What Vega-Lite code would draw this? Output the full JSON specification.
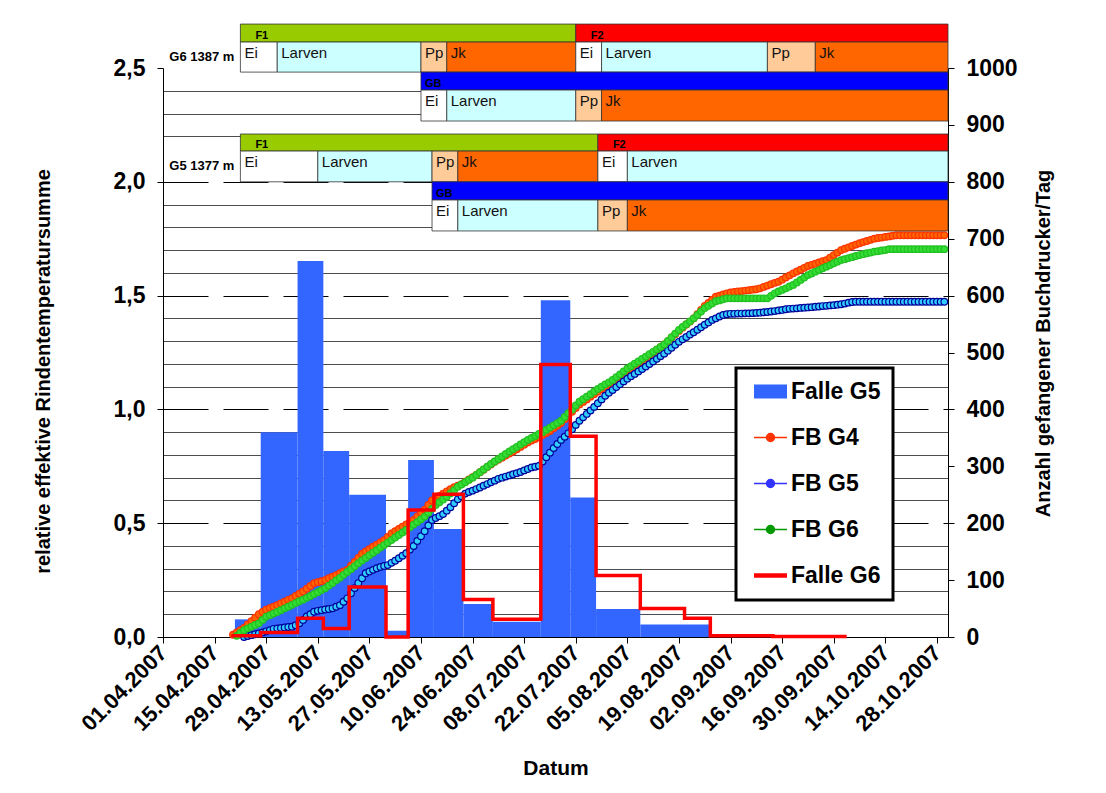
{
  "$schema": "https://vega.github.io/schema/vega-lite/v6.json",
  "width": 785,
  "height": 569,
  "autosize": {"type": "none"},
  "padding": {"left": 163, "top": 68, "right": 158, "bottom": 156},
  "background": "#ffffff",
  "config": {
    "view": {"stroke": null},
    "font": "Liberation Sans",
    "axis": {"domainColor": "#000000", "tickColor": "#000000", "labelColor": "#000000", "titleColor": "#000000", "labelFont": "Liberation Sans", "titleFont": "Liberation Sans", "labelFontWeight": "bold", "titleFontWeight": "bold", "labelOverlap": false, "labelFlush": false, "domainWidth": 1}
  },
  "datasets": {
    "fb": [
      {"d":"2007-04-20","FB G4":0.010},
      {"d":"2007-04-21","FB G4":0.020,"FB G6":0.005},
      {"d":"2007-04-22","FB G4":0.030,"FB G6":0.018},
      {"d":"2007-04-23","FB G4":0.040,"FB G5":0.000,"FB G6":0.030},
      {"d":"2007-04-24","FB G4":0.055,"FB G5":0.004,"FB G6":0.038},
      {"d":"2007-04-25","FB G4":0.070,"FB G5":0.008,"FB G6":0.045},
      {"d":"2007-04-26","FB G4":0.085,"FB G5":0.012,"FB G6":0.053},
      {"d":"2007-04-27","FB G4":0.100,"FB G5":0.016,"FB G6":0.060},
      {"d":"2007-04-28","FB G4":0.110,"FB G5":0.020,"FB G6":0.075},
      {"d":"2007-04-29","FB G4":0.120,"FB G5":0.025,"FB G6":0.089},
      {"d":"2007-04-30","FB G4":0.127,"FB G5":0.030,"FB G6":0.096},
      {"d":"2007-05-01","FB G4":0.133,"FB G5":0.036,"FB G6":0.103},
      {"d":"2007-05-02","FB G4":0.140,"FB G5":0.038,"FB G6":0.110},
      {"d":"2007-05-03","FB G4":0.148,"FB G5":0.040,"FB G6":0.118},
      {"d":"2007-05-04","FB G4":0.155,"FB G5":0.042,"FB G6":0.126},
      {"d":"2007-05-05","FB G4":0.163,"FB G5":0.044,"FB G6":0.133},
      {"d":"2007-05-06","FB G4":0.170,"FB G5":0.045,"FB G6":0.141},
      {"d":"2007-05-07","FB G4":0.180,"FB G5":0.052,"FB G6":0.149},
      {"d":"2007-05-08","FB G4":0.190,"FB G5":0.060,"FB G6":0.157},
      {"d":"2007-05-09","FB G4":0.200,"FB G5":0.075,"FB G6":0.164},
      {"d":"2007-05-10","FB G4":0.212,"FB G5":0.090,"FB G6":0.172},
      {"d":"2007-05-11","FB G4":0.224,"FB G5":0.100,"FB G6":0.180},
      {"d":"2007-05-12","FB G4":0.236,"FB G5":0.111,"FB G6":0.189},
      {"d":"2007-05-13","FB G4":0.241,"FB G5":0.115,"FB G6":0.197},
      {"d":"2007-05-14","FB G4":0.245,"FB G5":0.118,"FB G6":0.206},
      {"d":"2007-05-15","FB G4":0.250,"FB G5":0.121,"FB G6":0.214},
      {"d":"2007-05-16","FB G4":0.258,"FB G5":0.123,"FB G6":0.226},
      {"d":"2007-05-17","FB G4":0.265,"FB G5":0.126,"FB G6":0.237},
      {"d":"2007-05-18","FB G4":0.272,"FB G5":0.133,"FB G6":0.249},
      {"d":"2007-05-19","FB G4":0.280,"FB G5":0.140,"FB G6":0.260},
      {"d":"2007-05-20","FB G4":0.288,"FB G5":0.155,"FB G6":0.273},
      {"d":"2007-05-21","FB G4":0.295,"FB G5":0.170,"FB G6":0.286},
      {"d":"2007-05-22","FB G4":0.313,"FB G5":0.192,"FB G6":0.298},
      {"d":"2007-05-23","FB G4":0.330,"FB G5":0.215,"FB G6":0.311},
      {"d":"2007-05-24","FB G4":0.348,"FB G5":0.237,"FB G6":0.324},
      {"d":"2007-05-25","FB G4":0.365,"FB G5":0.258,"FB G6":0.336},
      {"d":"2007-05-26","FB G4":0.376,"FB G5":0.280,"FB G6":0.347},
      {"d":"2007-05-27","FB G4":0.386,"FB G5":0.288,"FB G6":0.359},
      {"d":"2007-05-28","FB G4":0.397,"FB G5":0.295,"FB G6":0.370},
      {"d":"2007-05-29","FB G4":0.406,"FB G5":0.302,"FB G6":0.381},
      {"d":"2007-05-30","FB G4":0.416,"FB G5":0.308,"FB G6":0.393},
      {"d":"2007-05-31","FB G4":0.425,"FB G5":0.312,"FB G6":0.404},
      {"d":"2007-06-01","FB G4":0.440,"FB G5":0.316,"FB G6":0.415},
      {"d":"2007-06-02","FB G4":0.455,"FB G5":0.326,"FB G6":0.426},
      {"d":"2007-06-03","FB G4":0.465,"FB G5":0.335,"FB G6":0.437},
      {"d":"2007-06-04","FB G4":0.475,"FB G5":0.346,"FB G6":0.448},
      {"d":"2007-06-05","FB G4":0.485,"FB G5":0.357,"FB G6":0.459},
      {"d":"2007-06-06","FB G4":0.495,"FB G5":0.368,"FB G6":0.470},
      {"d":"2007-06-07","FB G4":0.504,"FB G5":0.384,"FB G6":0.482},
      {"d":"2007-06-08","FB G4":0.514,"FB G5":0.400,"FB G6":0.494},
      {"d":"2007-06-09","FB G4":0.530,"FB G5":0.422,"FB G6":0.505},
      {"d":"2007-06-10","FB G4":0.545,"FB G5":0.443,"FB G6":0.517},
      {"d":"2007-06-11","FB G4":0.560,"FB G5":0.465,"FB G6":0.529},
      {"d":"2007-06-12","FB G4":0.580,"FB G5":0.490,"FB G6":0.546},
      {"d":"2007-06-13","FB G4":0.600,"FB G5":0.514,"FB G6":0.563},
      {"d":"2007-06-14","FB G4":0.610,"FB G5":0.523,"FB G6":0.580},
      {"d":"2007-06-15","FB G4":0.620,"FB G5":0.531,"FB G6":0.592},
      {"d":"2007-06-16","FB G4":0.630,"FB G5":0.540,"FB G6":0.604},
      {"d":"2007-06-17","FB G4":0.640,"FB G5":0.555,"FB G6":0.616},
      {"d":"2007-06-18","FB G4":0.649,"FB G5":0.570,"FB G6":0.631},
      {"d":"2007-06-19","FB G4":0.658,"FB G5":0.588,"FB G6":0.645},
      {"d":"2007-06-20","FB G4":0.665,"FB G5":0.605,"FB G6":0.660},
      {"d":"2007-06-21","FB G4":0.672,"FB G5":0.618,"FB G6":0.670},
      {"d":"2007-06-22","FB G4":0.682,"FB G5":0.630,"FB G6":0.680},
      {"d":"2007-06-23","FB G4":0.692,"FB G5":0.637,"FB G6":0.690},
      {"d":"2007-06-24","FB G4":0.702,"FB G5":0.643,"FB G6":0.700},
      {"d":"2007-06-25","FB G4":0.712,"FB G5":0.650,"FB G6":0.712},
      {"d":"2007-06-26","FB G4":0.724,"FB G5":0.657,"FB G6":0.724},
      {"d":"2007-06-27","FB G4":0.735,"FB G5":0.665,"FB G6":0.736},
      {"d":"2007-06-28","FB G4":0.747,"FB G5":0.672,"FB G6":0.748},
      {"d":"2007-06-29","FB G4":0.758,"FB G5":0.680,"FB G6":0.760},
      {"d":"2007-06-30","FB G4":0.770,"FB G5":0.687,"FB G6":0.771},
      {"d":"2007-07-01","FB G4":0.779,"FB G5":0.695,"FB G6":0.782},
      {"d":"2007-07-02","FB G4":0.788,"FB G5":0.700,"FB G6":0.793},
      {"d":"2007-07-03","FB G4":0.797,"FB G5":0.705,"FB G6":0.804},
      {"d":"2007-07-04","FB G4":0.806,"FB G5":0.710,"FB G6":0.815},
      {"d":"2007-07-05","FB G4":0.815,"FB G5":0.715,"FB G6":0.825},
      {"d":"2007-07-06","FB G4":0.825,"FB G5":0.720,"FB G6":0.835},
      {"d":"2007-07-07","FB G4":0.835,"FB G5":0.725,"FB G6":0.846},
      {"d":"2007-07-08","FB G4":0.845,"FB G5":0.732,"FB G6":0.856},
      {"d":"2007-07-09","FB G4":0.855,"FB G5":0.738,"FB G6":0.866},
      {"d":"2007-07-10","FB G4":0.863,"FB G5":0.745,"FB G6":0.875},
      {"d":"2007-07-11","FB G4":0.870,"FB G5":0.748,"FB G6":0.883},
      {"d":"2007-07-12","FB G4":0.878,"FB G5":0.752,"FB G6":0.892},
      {"d":"2007-07-13","FB G4":0.887,"FB G5":0.771,"FB G6":0.900},
      {"d":"2007-07-14","FB G4":0.896,"FB G5":0.790,"FB G6":0.910},
      {"d":"2007-07-15","FB G4":0.905,"FB G5":0.810,"FB G6":0.920},
      {"d":"2007-07-16","FB G4":0.917,"FB G5":0.830,"FB G6":0.930},
      {"d":"2007-07-17","FB G4":0.928,"FB G5":0.848,"FB G6":0.940},
      {"d":"2007-07-18","FB G4":0.940,"FB G5":0.866,"FB G6":0.950},
      {"d":"2007-07-19","FB G4":0.957,"FB G5":0.880,"FB G6":0.967},
      {"d":"2007-07-20","FB G4":0.973,"FB G5":0.895,"FB G6":0.983},
      {"d":"2007-07-21","FB G4":0.990,"FB G5":0.913,"FB G6":1.000},
      {"d":"2007-07-22","FB G4":1.006,"FB G5":0.932,"FB G6":1.017},
      {"d":"2007-07-23","FB G4":1.022,"FB G5":0.950,"FB G6":1.034},
      {"d":"2007-07-24","FB G4":1.033,"FB G5":0.965,"FB G6":1.045},
      {"d":"2007-07-25","FB G4":1.044,"FB G5":0.980,"FB G6":1.056},
      {"d":"2007-07-26","FB G4":1.056,"FB G5":0.995,"FB G6":1.067},
      {"d":"2007-07-27","FB G4":1.067,"FB G5":1.011,"FB G6":1.079},
      {"d":"2007-07-28","FB G4":1.078,"FB G5":1.027,"FB G6":1.090},
      {"d":"2007-07-29","FB G4":1.089,"FB G5":1.044,"FB G6":1.100},
      {"d":"2007-07-30","FB G4":1.099,"FB G5":1.060,"FB G6":1.110},
      {"d":"2007-07-31","FB G4":1.110,"FB G5":1.073,"FB G6":1.119},
      {"d":"2007-08-01","FB G4":1.120,"FB G5":1.085,"FB G6":1.129},
      {"d":"2007-08-02","FB G4":1.132,"FB G5":1.098,"FB G6":1.142},
      {"d":"2007-08-03","FB G4":1.144,"FB G5":1.110,"FB G6":1.154},
      {"d":"2007-08-04","FB G4":1.156,"FB G5":1.123,"FB G6":1.167},
      {"d":"2007-08-05","FB G4":1.168,"FB G5":1.135,"FB G6":1.180},
      {"d":"2007-08-06","FB G4":1.179,"FB G5":1.146,"FB G6":1.190},
      {"d":"2007-08-07","FB G4":1.191,"FB G5":1.156,"FB G6":1.201},
      {"d":"2007-08-08","FB G4":1.202,"FB G5":1.167,"FB G6":1.211},
      {"d":"2007-08-09","FB G4":1.214,"FB G5":1.177,"FB G6":1.222},
      {"d":"2007-08-10","FB G4":1.225,"FB G5":1.188,"FB G6":1.232},
      {"d":"2007-08-11","FB G4":1.237,"FB G5":1.199,"FB G6":1.243},
      {"d":"2007-08-12","FB G4":1.249,"FB G5":1.211,"FB G6":1.253},
      {"d":"2007-08-13","FB G4":1.261,"FB G5":1.222,"FB G6":1.264},
      {"d":"2007-08-14","FB G4":1.273,"FB G5":1.234,"FB G6":1.274},
      {"d":"2007-08-15","FB G4":1.285,"FB G5":1.245,"FB G6":1.285},
      {"d":"2007-08-16","FB G4":1.300,"FB G5":1.258,"FB G6":1.301},
      {"d":"2007-08-17","FB G4":1.315,"FB G5":1.271,"FB G6":1.317},
      {"d":"2007-08-18","FB G4":1.330,"FB G5":1.284,"FB G6":1.333},
      {"d":"2007-08-19","FB G4":1.345,"FB G5":1.297,"FB G6":1.349},
      {"d":"2007-08-20","FB G4":1.359,"FB G5":1.308,"FB G6":1.362},
      {"d":"2007-08-21","FB G4":1.373,"FB G5":1.318,"FB G6":1.374},
      {"d":"2007-08-22","FB G4":1.386,"FB G5":1.329,"FB G6":1.387},
      {"d":"2007-08-23","FB G4":1.400,"FB G5":1.339,"FB G6":1.400},
      {"d":"2007-08-24","FB G4":1.418,"FB G5":1.350,"FB G6":1.415},
      {"d":"2007-08-25","FB G4":1.437,"FB G5":1.361,"FB G6":1.430},
      {"d":"2007-08-26","FB G4":1.455,"FB G5":1.372,"FB G6":1.445},
      {"d":"2007-08-27","FB G4":1.468,"FB G5":1.382,"FB G6":1.455},
      {"d":"2007-08-28","FB G4":1.482,"FB G5":1.393,"FB G6":1.465},
      {"d":"2007-08-29","FB G4":1.495,"FB G5":1.400,"FB G6":1.475},
      {"d":"2007-08-30","FB G4":1.500,"FB G5":1.408,"FB G6":1.479},
      {"d":"2007-08-31","FB G4":1.505,"FB G5":1.415,"FB G6":1.484},
      {"d":"2007-09-01","FB G4":1.510,"FB G5":1.418,"FB G6":1.488},
      {"d":"2007-09-02","FB G4":1.514,"FB G5":1.420,"FB G6":1.488},
      {"d":"2007-09-03","FB G4":1.516,"FB G5":1.420,"FB G6":1.488},
      {"d":"2007-09-04","FB G4":1.518,"FB G5":1.421,"FB G6":1.488},
      {"d":"2007-09-05","FB G4":1.520,"FB G5":1.421,"FB G6":1.488},
      {"d":"2007-09-06","FB G4":1.522,"FB G5":1.422,"FB G6":1.488},
      {"d":"2007-09-07","FB G4":1.524,"FB G5":1.422,"FB G6":1.488},
      {"d":"2007-09-08","FB G4":1.526,"FB G5":1.423,"FB G6":1.488},
      {"d":"2007-09-09","FB G4":1.528,"FB G5":1.424,"FB G6":1.488},
      {"d":"2007-09-10","FB G4":1.532,"FB G5":1.425,"FB G6":1.488},
      {"d":"2007-09-11","FB G4":1.538,"FB G5":1.427,"FB G6":1.488},
      {"d":"2007-09-12","FB G4":1.544,"FB G5":1.428,"FB G6":1.488},
      {"d":"2007-09-13","FB G4":1.550,"FB G5":1.430,"FB G6":1.499},
      {"d":"2007-09-14","FB G4":1.556,"FB G5":1.432,"FB G6":1.510},
      {"d":"2007-09-15","FB G4":1.561,"FB G5":1.435,"FB G6":1.518},
      {"d":"2007-09-16","FB G4":1.570,"FB G5":1.437,"FB G6":1.525},
      {"d":"2007-09-17","FB G4":1.580,"FB G5":1.440,"FB G6":1.532},
      {"d":"2007-09-18","FB G4":1.589,"FB G5":1.442,"FB G6":1.540},
      {"d":"2007-09-19","FB G4":1.598,"FB G5":1.443,"FB G6":1.547},
      {"d":"2007-09-20","FB G4":1.606,"FB G5":1.444,"FB G6":1.558},
      {"d":"2007-09-21","FB G4":1.614,"FB G5":1.446,"FB G6":1.569},
      {"d":"2007-09-22","FB G4":1.622,"FB G5":1.447,"FB G6":1.579},
      {"d":"2007-09-23","FB G4":1.630,"FB G5":1.448,"FB G6":1.590},
      {"d":"2007-09-24","FB G4":1.635,"FB G5":1.449,"FB G6":1.597},
      {"d":"2007-09-25","FB G4":1.640,"FB G5":1.451,"FB G6":1.605},
      {"d":"2007-09-26","FB G4":1.646,"FB G5":1.452,"FB G6":1.612},
      {"d":"2007-09-27","FB G4":1.651,"FB G5":1.454,"FB G6":1.620},
      {"d":"2007-09-28","FB G4":1.656,"FB G5":1.455,"FB G6":1.627},
      {"d":"2007-09-29","FB G4":1.667,"FB G5":1.457,"FB G6":1.634},
      {"d":"2007-09-30","FB G4":1.678,"FB G5":1.458,"FB G6":1.642},
      {"d":"2007-10-01","FB G4":1.689,"FB G5":1.460,"FB G6":1.649},
      {"d":"2007-10-02","FB G4":1.700,"FB G5":1.462,"FB G6":1.656},
      {"d":"2007-10-03","FB G4":1.706,"FB G5":1.465,"FB G6":1.660},
      {"d":"2007-10-04","FB G4":1.712,"FB G5":1.469,"FB G6":1.665},
      {"d":"2007-10-05","FB G4":1.718,"FB G5":1.472,"FB G6":1.669},
      {"d":"2007-10-06","FB G4":1.724,"FB G5":1.473,"FB G6":1.674},
      {"d":"2007-10-07","FB G4":1.730,"FB G5":1.473,"FB G6":1.678},
      {"d":"2007-10-08","FB G4":1.735,"FB G5":1.473,"FB G6":1.682},
      {"d":"2007-10-09","FB G4":1.740,"FB G5":1.473,"FB G6":1.686},
      {"d":"2007-10-10","FB G4":1.745,"FB G5":1.473,"FB G6":1.689},
      {"d":"2007-10-11","FB G4":1.750,"FB G5":1.473,"FB G6":1.693},
      {"d":"2007-10-12","FB G4":1.753,"FB G5":1.473,"FB G6":1.695},
      {"d":"2007-10-13","FB G4":1.755,"FB G5":1.473,"FB G6":1.698},
      {"d":"2007-10-14","FB G4":1.758,"FB G5":1.473,"FB G6":1.700},
      {"d":"2007-10-15","FB G4":1.760,"FB G5":1.473,"FB G6":1.704},
      {"d":"2007-10-16","FB G4":1.763,"FB G5":1.473,"FB G6":1.704},
      {"d":"2007-10-17","FB G4":1.765,"FB G5":1.473,"FB G6":1.704},
      {"d":"2007-10-18","FB G4":1.765,"FB G5":1.473,"FB G6":1.704},
      {"d":"2007-10-19","FB G4":1.765,"FB G5":1.473,"FB G6":1.704},
      {"d":"2007-10-20","FB G4":1.765,"FB G5":1.473,"FB G6":1.704},
      {"d":"2007-10-21","FB G4":1.765,"FB G5":1.473,"FB G6":1.704},
      {"d":"2007-10-22","FB G4":1.765,"FB G5":1.473,"FB G6":1.704},
      {"d":"2007-10-23","FB G4":1.765,"FB G5":1.473,"FB G6":1.704},
      {"d":"2007-10-24","FB G4":1.765,"FB G5":1.473,"FB G6":1.704},
      {"d":"2007-10-25","FB G4":1.765,"FB G5":1.473,"FB G6":1.704},
      {"d":"2007-10-26","FB G4":1.765,"FB G5":1.473,"FB G6":1.704},
      {"d":"2007-10-27","FB G4":1.765,"FB G5":1.473,"FB G6":1.704},
      {"d":"2007-10-28","FB G4":1.765,"FB G5":1.473,"FB G6":1.704},
      {"d":"2007-10-29","FB G4":1.765,"FB G5":1.473,"FB G6":1.704},
      {"d":"2007-10-30","FB G4":1.765,"FB G5":1.473,"FB G6":1.704}
    ],
    "falleG5": [
      {"start":"2007-04-21","end":"2007-04-28","Anzahl":31},
      {"start":"2007-04-28","end":"2007-05-08","Anzahl":360},
      {"start":"2007-05-08","end":"2007-05-15","Anzahl":661},
      {"start":"2007-05-15","end":"2007-05-22","Anzahl":327},
      {"start":"2007-05-22","end":"2007-06-01","Anzahl":250},
      {"start":"2007-06-01","end":"2007-06-07","Anzahl":11},
      {"start":"2007-06-07","end":"2007-06-14","Anzahl":311},
      {"start":"2007-06-14","end":"2007-06-22","Anzahl":190},
      {"start":"2007-06-22","end":"2007-06-30","Anzahl":58},
      {"start":"2007-06-30","end":"2007-07-13","Anzahl":27},
      {"start":"2007-07-13","end":"2007-07-21","Anzahl":592},
      {"start":"2007-07-21","end":"2007-07-28","Anzahl":245},
      {"start":"2007-07-28","end":"2007-08-09","Anzahl":49},
      {"start":"2007-08-09","end":"2007-08-28","Anzahl":22}
    ],
    "falleG6": [
      {"d":"2007-04-20","Anzahl":2},
      {"d":"2007-04-28","Anzahl":8},
      {"d":"2007-05-08","Anzahl":33},
      {"d":"2007-05-15","Anzahl":15},
      {"d":"2007-05-22","Anzahl":88},
      {"d":"2007-06-01","Anzahl":0},
      {"d":"2007-06-07","Anzahl":223},
      {"d":"2007-06-14","Anzahl":251},
      {"d":"2007-06-22","Anzahl":66},
      {"d":"2007-06-30","Anzahl":31},
      {"d":"2007-07-13","Anzahl":479},
      {"d":"2007-07-21","Anzahl":353},
      {"d":"2007-07-28","Anzahl":108},
      {"d":"2007-08-09","Anzahl":50},
      {"d":"2007-08-21","Anzahl":33},
      {"d":"2007-08-28","Anzahl":2},
      {"d":"2007-09-14","Anzahl":1},
      {"d":"2007-10-04","Anzahl":1}
    ],
    "pheno": [
      {"site":"G6","kind":"gen","label":"F1","start":"2007-04-22","end":"2007-07-22","top":2.693,"bot":2.614},
      {"site":"G6","kind":"gen","label":"F2","start":"2007-07-22","end":"2007-10-31","top":2.693,"bot":2.614},
      {"site":"G6","kind":"stage","label":"Ei","start":"2007-04-22","end":"2007-05-02","top":2.614,"bot":2.482},
      {"site":"G6","kind":"stage","label":"Larven","start":"2007-05-02","end":"2007-06-10","top":2.614,"bot":2.482},
      {"site":"G6","kind":"stage","label":"Pp","start":"2007-06-10","end":"2007-06-17","top":2.614,"bot":2.482},
      {"site":"G6","kind":"stage","label":"Jk","start":"2007-06-17","end":"2007-07-22","top":2.614,"bot":2.482},
      {"site":"G6","kind":"stage","label":"Ei","start":"2007-07-22","end":"2007-07-29","top":2.614,"bot":2.482},
      {"site":"G6","kind":"stage","label":"Larven","start":"2007-07-29","end":"2007-09-12","top":2.614,"bot":2.482},
      {"site":"G6","kind":"stage","label":"Pp","start":"2007-09-12","end":"2007-09-25","top":2.614,"bot":2.482},
      {"site":"G6","kind":"stage","label":"Jk","start":"2007-09-25","end":"2007-10-31","top":2.614,"bot":2.482},
      {"site":"G6","kind":"gen","label":"GB","start":"2007-06-10","end":"2007-10-31","top":2.482,"bot":2.403},
      {"site":"G6","kind":"stage","label":"Ei","start":"2007-06-10","end":"2007-06-17","top":2.403,"bot":2.267},
      {"site":"G6","kind":"stage","label":"Larven","start":"2007-06-17","end":"2007-07-22","top":2.403,"bot":2.267},
      {"site":"G6","kind":"stage","label":"Pp","start":"2007-07-22","end":"2007-07-29","top":2.403,"bot":2.267},
      {"site":"G6","kind":"stage","label":"Jk","start":"2007-07-29","end":"2007-10-31","top":2.403,"bot":2.267},
      {"site":"G6","kind":"site","label":"G6 1387 m","start":"2007-04-22","end":"2007-04-22","top":2.614,"bot":2.482},
      {"site":"G5","kind":"gen","label":"F1","start":"2007-04-22","end":"2007-07-28","top":2.210,"bot":2.135},
      {"site":"G5","kind":"gen","label":"F2","start":"2007-07-28","end":"2007-10-31","top":2.210,"bot":2.135},
      {"site":"G5","kind":"stage","label":"Ei","start":"2007-04-22","end":"2007-05-13","top":2.135,"bot":2.000},
      {"site":"G5","kind":"stage","label":"Larven","start":"2007-05-13","end":"2007-06-13","top":2.135,"bot":2.000},
      {"site":"G5","kind":"stage","label":"Pp","start":"2007-06-13","end":"2007-06-20","top":2.135,"bot":2.000},
      {"site":"G5","kind":"stage","label":"Jk","start":"2007-06-20","end":"2007-07-28","top":2.135,"bot":2.000},
      {"site":"G5","kind":"stage","label":"Ei","start":"2007-07-28","end":"2007-08-05","top":2.135,"bot":2.000},
      {"site":"G5","kind":"stage","label":"Larven","start":"2007-08-05","end":"2007-10-31","top":2.135,"bot":2.000},
      {"site":"G5","kind":"gen","label":"GB","start":"2007-06-13","end":"2007-10-31","top":2.000,"bot":1.920},
      {"site":"G5","kind":"stage","label":"Ei","start":"2007-06-13","end":"2007-06-20","top":1.920,"bot":1.784},
      {"site":"G5","kind":"stage","label":"Larven","start":"2007-06-20","end":"2007-07-28","top":1.920,"bot":1.784},
      {"site":"G5","kind":"stage","label":"Pp","start":"2007-07-28","end":"2007-08-05","top":1.920,"bot":1.784},
      {"site":"G5","kind":"stage","label":"Jk","start":"2007-08-05","end":"2007-10-31","top":1.920,"bot":1.784},
      {"site":"G5","kind":"site","label":"G5 1377 m","start":"2007-04-22","end":"2007-04-22","top":2.135,"bot":2.000}
    ]
  },
  "layer": [
    {
      "data": {"name": "falleG5"},
      "mark": {"type": "rect", "xOffset": -1.8, "x2Offset": -1.8},
      "encoding": {
        "x": {
          "field": "start", "type": "temporal",
          "scale": {"type": "utc", "nice": false, "domain": [{"year": 2007, "month": 4, "date": 1, "utc": true}, {"year": 2007, "month": 10, "date": 31, "utc": true}]},
          "axis": {
            "title": "Datum",
            "values": [
              {"year": 2007, "month": 4, "date": 1, "utc": true},
              {"year": 2007, "month": 4, "date": 15, "utc": true},
              {"year": 2007, "month": 4, "date": 29, "utc": true},
              {"year": 2007, "month": 5, "date": 13, "utc": true},
              {"year": 2007, "month": 5, "date": 27, "utc": true},
              {"year": 2007, "month": 6, "date": 10, "utc": true},
              {"year": 2007, "month": 6, "date": 24, "utc": true},
              {"year": 2007, "month": 7, "date": 8, "utc": true},
              {"year": 2007, "month": 7, "date": 22, "utc": true},
              {"year": 2007, "month": 8, "date": 5, "utc": true},
              {"year": 2007, "month": 8, "date": 19, "utc": true},
              {"year": 2007, "month": 9, "date": 2, "utc": true},
              {"year": 2007, "month": 9, "date": 16, "utc": true},
              {"year": 2007, "month": 9, "date": 30, "utc": true},
              {"year": 2007, "month": 10, "date": 14, "utc": true},
              {"year": 2007, "month": 10, "date": 28, "utc": true}
            ],
            "format": "%d.%m.%Y",
            "labelAngle": -45, "labelAlign": "right", "labelBaseline": "middle",
            "labelFontSize": 22, "labelPadding": 6, "tickSize": 6, "grid": false,
            "titleFontSize": 21, "titleY": 131, "titleBaseline": "middle"
          }
        },
        "x2": {"field": "end"},
        "y": {
          "field": "Anzahl", "type": "quantitative",
          "scale": {"domain": [0, 1000], "nice": false},
          "axis": {
            "orient": "right", "values": [0, 100, 200, 300, 400, 500, 600, 700, 800, 900, 1000], "format": "d",
            "grid": false, "labelFontSize": 23, "labelPadding": 12, "tickSize": 6,
            "title": "Anzahl gefangener Buchdrucker/Tag", "titleFontSize": 20,
            "titleAngle": 270, "titleX": 105, "titleY": 275, "titleBaseline": "bottom", "titleAlign": "center"
          }
        },
        "y2": {"datum": 0},
        "color": {
          "datum": "Falle G5", "type": "nominal", "title": null,
          "scale": {"domain": ["Falle G5", "FB G4", "FB G5", "FB G6", "Falle G6"], "range": ["#3366FF", "#FF3300", "#3333FF", "#009900", "#FF0000"]},
          "legend": {
            "title": null, "orient": "none", "legendX": 573, "legendY": 300, "direction": "vertical",
            "padding": 12, "symbolOffset": 11, "symbolSize": 1089,
            "labelFontSize": 23, "labelFontWeight": "bold", "labelFont": "Liberation Sans", "labelColor": "#000000",
            "labelOffset": 9, "rowPadding": 22, "labelLimit": 300,
            "labelExpr": "datum.label + '\u00a0\u00a0\u00a0'",
            "strokeColor": "#000000", "fillColor": "#ffffff",
            "encode": {
              "legend": {"update": {"strokeWidth": {"value": 3}}},
              "symbols": {"update": {
                "shape": {"signal": "datum.value === 'Falle G5' ? 'M-1,-0.42H1V0.42H-1Z' : datum.value === 'Falle G6' ? 'M-1,0H1' : 'M-1,0H1M-0.24,0A0.24,0.24 0 1,1 0.24,0A0.24,0.24 0 1,1 -0.24,0Z'"},
                "fill": {"signal": "datum.value === 'Falle G5' ? '#3366FF' : datum.value === 'FB G4' ? '#FF6600' : datum.value === 'FB G5' ? '#33CCFF' : datum.value === 'FB G6' ? '#33DD33' : 'transparent'"},
                "stroke": {"signal": "datum.value === 'Falle G5' ? '#3366FF' : datum.value === 'FB G4' ? '#FF3300' : datum.value === 'FB G5' ? '#3333FF' : datum.value === 'FB G6' ? '#009900' : '#FF0000'"},
                "strokeWidth": {"signal": "datum.value === 'Falle G6' ? 4.5 : datum.value === 'Falle G5' ? 0 : 1.5"},
                "opacity": {"value": 1},
                "fillOpacity": {"value": 1},
                "strokeOpacity": {"value": 1}
              }}
            }
          }
        }
      }
    },
    {
      "data": {"name": "fb"},
      "transform": [
        {"fold": ["FB G4", "FB G5", "FB G6"], "as": ["series", "value"]},
        {"filter": "isValid(datum.value)"}
      ],
      "mark": {"type": "line", "strokeWidth": 1.5},
      "encoding": {
        "x": {"field": "d", "type": "temporal", "scale": {"type": "utc", "nice": false, "domain": [{"year": 2007, "month": 4, "date": 1, "utc": true}, {"year": 2007, "month": 10, "date": 31, "utc": true}]}},
        "y": {
          "field": "value", "type": "quantitative",
          "scale": {"domain": [0, 2.5], "nice": false, "zero": false},
          "axis": {
            "orient": "left",
            "values": [0, 0.1, 0.2, 0.3, 0.4, 0.5, 0.6, 0.7, 0.8, 0.9, 1.0, 1.1, 1.2, 1.3, 1.4, 1.5, 1.6, 1.7, 1.8, 1.9, 2.0, 2.1, 2.2, 2.3, 2.4, 2.5],
            "labelExpr": "round(datum.value*10) % 5 === 0 ? replace(format(datum.value, '.1f'), '.', ',') : ''",
            "labelFontSize": 23, "labelPadding": 12, "tickSize": 6,
            "tickOpacity": {"condition": {"test": "round(datum.value*10) % 5 === 0", "value": 1}, "value": 0},
            "grid": true, "gridWidth": 1,
            "gridColor": {"condition": {"test": "round(datum.value*10) % 5 === 0", "value": "#000000"}, "value": "#4d4d4d"},
            "gridDash": {"condition": {"test": "round(datum.value*10) % 5 === 0", "value": [45, 15]}, "value": []},
            "gridOpacity": {"condition": {"test": "datum.value < 0.05 || datum.value > 2.45 || abs(datum.value - 2.1) < 0.01", "value": 0}, "value": 1},
            "title": "relative effektive Rindentemperatursumme", "titleFontSize": 20,
            "titleAngle": 270, "titleX": -110, "titleY": 303, "titleBaseline": "bottom", "titleAlign": "center"
          }
        },
        "color": {"field": "series", "type": "nominal", "title": null, "scale": {"domain": ["Falle G5", "FB G4", "FB G5", "FB G6", "Falle G6"], "range": ["#3366FF", "#FF3300", "#3333FF", "#009900", "#FF0000"]}}
      }
    },
    {
      "data": {"name": "fb"},
      "transform": [
        {"fold": ["FB G4", "FB G5", "FB G6"], "as": ["series", "value"]},
        {"filter": "isValid(datum.value)"}
      ],
      "mark": {"type": "point", "filled": true, "size": 44, "strokeWidth": 1.2, "opacity": 1},
      "encoding": {
        "x": {"field": "d", "type": "temporal", "scale": {"type": "utc", "nice": false, "domain": [{"year": 2007, "month": 4, "date": 1, "utc": true}, {"year": 2007, "month": 10, "date": 31, "utc": true}]}},
        "y": {"field": "value", "type": "quantitative", "scale": {"domain": [0, 2.5], "nice": false, "zero": false}, "axis": null},
        "fill": {"field": "series", "type": "nominal", "scale": {"domain": ["FB G4", "FB G5", "FB G6"], "range": ["#FF6600", "#33CCFF", "#33DD33"]}, "legend": null},
        "stroke": {"field": "series", "type": "nominal", "scale": {"domain": ["FB G4", "FB G5", "FB G6"], "range": ["#FF3300", "#000099", "#22C022"]}, "legend": null},
        "order": {"field": "series", "type": "nominal"}
      }
    },
    {
      "data": {"name": "falleG6"},
      "mark": {"type": "line", "interpolate": "step-after", "strokeWidth": 3.5, "xOffset": -1.8},
      "encoding": {
        "x": {"field": "d", "type": "temporal", "scale": {"type": "utc", "nice": false, "domain": [{"year": 2007, "month": 4, "date": 1, "utc": true}, {"year": 2007, "month": 10, "date": 31, "utc": true}]}},
        "y": {"field": "Anzahl", "type": "quantitative", "scale": {"domain": [0, 1000], "nice": false}, "axis": null},
        "color": {"datum": "Falle G6", "type": "nominal", "title": null}
      }
    },
    {
      "data": {"name": "pheno"},
      "transform": [{"filter": "datum.kind !== 'site'"}],
      "mark": {"type": "rect", "clip": false, "stroke": "#333333", "strokeWidth": 0.8},
      "encoding": {
        "x": {"field": "start", "type": "temporal", "scale": {"type": "utc", "nice": false, "domain": [{"year": 2007, "month": 4, "date": 1, "utc": true}, {"year": 2007, "month": 10, "date": 31, "utc": true}]}},
        "x2": {"field": "end"},
        "y": {"field": "top", "type": "quantitative", "scale": {"domain": [0, 2.5], "nice": false, "zero": false}, "axis": null},
        "y2": {"field": "bot"},
        "fill": {"field": "label", "type": "nominal", "scale": {"domain": ["F1", "F2", "GB", "Ei", "Larven", "Pp", "Jk"], "range": ["#99CC00", "#FF0000", "#0000FF", "#FFFFFF", "#CCFFFF", "#FFCC99", "#FF6600"]}, "legend": null}
      }
    },
    {
      "data": {"name": "pheno"},
      "transform": [{"filter": "datum.kind === 'stage'"}],
      "mark": {"type": "text", "clip": false, "align": "left", "baseline": "top", "dx": 4, "dy": 4, "fontSize": 15, "font": "Liberation Sans", "color": "#111111"},
      "encoding": {
        "x": {"field": "start", "type": "temporal", "scale": {"type": "utc", "nice": false, "domain": [{"year": 2007, "month": 4, "date": 1, "utc": true}, {"year": 2007, "month": 10, "date": 31, "utc": true}]}},
        "y": {"field": "top", "type": "quantitative", "scale": {"domain": [0, 2.5], "nice": false, "zero": false}, "axis": null},
        "text": {"field": "label"}
      }
    },
    {
      "data": {"name": "pheno"},
      "transform": [{"filter": "datum.kind === 'gen' && datum.label !== 'GB'"}],
      "mark": {"type": "text", "clip": false, "align": "left", "baseline": "bottom", "dx": 15, "dy": -1.5, "fontSize": 11, "fontWeight": "bold", "font": "Liberation Sans", "color": "#000000"},
      "encoding": {
        "x": {"field": "start", "type": "temporal", "scale": {"type": "utc", "nice": false, "domain": [{"year": 2007, "month": 4, "date": 1, "utc": true}, {"year": 2007, "month": 10, "date": 31, "utc": true}]}},
        "y": {"field": "bot", "type": "quantitative", "scale": {"domain": [0, 2.5], "nice": false, "zero": false}, "axis": null},
        "text": {"field": "label"}
      }
    },
    {
      "data": {"name": "pheno"},
      "transform": [{"filter": "datum.label === 'GB'"}],
      "mark": {"type": "text", "clip": false, "align": "left", "baseline": "bottom", "dx": 4, "dy": -1.5, "fontSize": 11, "fontWeight": "bold", "font": "Liberation Sans", "color": "#000000"},
      "encoding": {
        "x": {"field": "start", "type": "temporal", "scale": {"type": "utc", "nice": false, "domain": [{"year": 2007, "month": 4, "date": 1, "utc": true}, {"year": 2007, "month": 10, "date": 31, "utc": true}]}},
        "y": {"field": "bot", "type": "quantitative", "scale": {"domain": [0, 2.5], "nice": false, "zero": false}, "axis": null},
        "text": {"field": "label"}
      }
    },
    {
      "data": {"name": "pheno"},
      "transform": [{"filter": "datum.kind === 'site'"}],
      "mark": {"type": "text", "clip": false, "align": "right", "baseline": "top", "dx": -6, "dy": 9, "fontSize": 13, "fontWeight": "bold", "font": "Liberation Sans", "color": "#000000"},
      "encoding": {
        "x": {"field": "start", "type": "temporal", "scale": {"type": "utc", "nice": false, "domain": [{"year": 2007, "month": 4, "date": 1, "utc": true}, {"year": 2007, "month": 10, "date": 31, "utc": true}]}},
        "y": {"field": "top", "type": "quantitative", "scale": {"domain": [0, 2.5], "nice": false, "zero": false}, "axis": null},
        "text": {"field": "label"}
      }
    }
  ],
  "resolve": {"scale": {"y": "independent", "fill": "independent", "stroke": "independent"}}
}
